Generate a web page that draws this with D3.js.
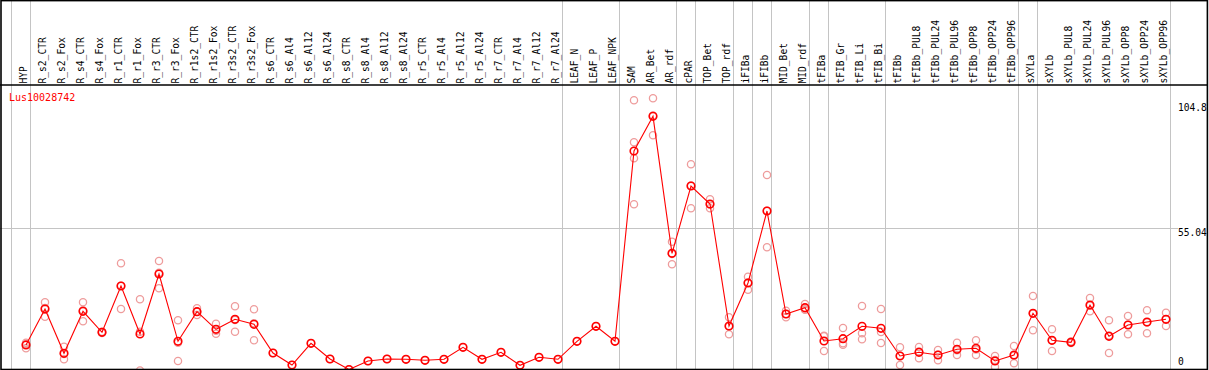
<!DOCTYPE html>
<html>
<head>
<meta charset="utf-8">
<script src="https://cdn.jsdelivr.net/npm/d3@7"></script>
<style>
  body { margin: 0; background: #fff; }
  svg text { font-family: "DejaVu Sans Mono", monospace; }
</style>
</head>
<body>
<svg id="chart"></svg>
<script>
var gene = "Lus10028742";

var samples = ["HYP", "R_s2_CTR", "R_s2_Fox", "R_s4_CTR", "R_s4_Fox", "R_r1_CTR", "R_r1_Fox",
  "R_r3_CTR", "R_r3_Fox", "R_r1s2_CTR", "R_r1s2_Fox", "R_r3s2_CTR", "R_r3s2_Fox", "R_s6_CTR",
  "R_s6_Al4", "R_s6_Al12", "R_s6_Al24", "R_s8_CTR", "R_s8_Al4", "R_s8_Al12", "R_s8_Al24",
  "R_r5_CTR", "R_r5_Al4", "R_r5_Al12", "R_r5_Al24", "R_r7_CTR", "R_r7_Al4", "R_r7_Al12",
  "R_r7_Al24", "LEAF_N", "LEAF_P", "LEAF_NPK", "SAM", "AR_Bet", "AR_rdf", "cPAR", "TOP_Bet",
  "TOP_rdf", "iFIBa", "iFIBb", "MID_Bet", "MID_rdf", "tFIBa", "tFIB_Gr", "tFIB_Li", "tFIB_Bi",
  "tFIBb", "tFIBb_PUL8", "tFIBb_PUL24", "tFIBb_PUL96", "tFIBb_OPP8", "tFIBb_OPP24", "tFIBb_OPP96",
  "sXYLa", "sXYLb", "sXYLb_PUL8", "sXYLb_PUL24", "sXYLb_PUL96", "sXYLb_OPP8", "sXYLb_OPP24",
  "sXYLb_OPP96"];

// samples that start a new group (grey separator drawn before them)
var groupStarts = ["HYP", "R_s2_CTR", "LEAF_N", "SAM", "cPAR", "TOP_Bet", "iFIBa", "iFIBb",
  "MID_Bet", "tFIBa", "tFIB_Gr", "tFIBb", "sXYLa", "sXYLb"];

var means = [10.37, 24.15, 7.20, 23.27, 15.23, 32.96, 14.58, 37.55, 11.79, 23.12, 16.38, 20.21,
  18.30, 7.31, 2.72, 11.02, 5.01, 1.00, 4.25, 5.01, 4.90, 4.52, 4.90, 9.49, 4.90, 7.58, 2.60,
  5.67, 4.90, 11.79, 17.53, 11.79, 84.63, 97.91, 45.47, 71.23, 64.34, 17.65, 34.11, 61.66,
  22.24, 24.65, 11.90, 12.78, 17.53, 16.77, 6.16, 7.58, 6.55, 8.73, 9.11, 4.25, 6.55, 22.51,
  12.17, 11.41, 25.68, 13.70, 18.03, 19.18, 20.21];

var replicates = [
  [11.25, 10.76, 9.11], [26.72, 24.54, 21.21], [9.72, 6.93, 4.90], [26.72, 23.66, 19.45],
  [15.4, 15.0, 15.3], [41.65, 33.07, 24.15], [27.87, 15.46, 0.61], [42.53, 38.05, 32.08],
  [19.83, 11.25, 4.25], [24.42, 23.12, 21.86], [18.53, 15.85, 14.70], [25.19, 19.94, 15.46],
  [24.04, 18.68, 12.17], [7.31], [2.72], [11.02], [5.01], [1.00], [4.25], [5.01], [4.90],
  [4.52], [4.90], [9.49], [4.90], [7.58], [2.60], [5.67], [4.90], [11.79], [17.53], [11.79],
  [104.04, 87.96, 81.84, 64.23], [104.8, 98.26, 90.64], [49.91, 45.21, 41.26],
  [79.54, 71.46, 62.70], [66.14, 64.19, 62.70], [20.98, 17.49, 14.47], [36.52, 34.26, 31.54],
  [75.44, 61.78, 47.77], [23.50, 22.24, 20.98], [26.07, 23.89, 24.04], [13.93, 13.70, 8.08],
  [16.88, 11.02, 10.45], [25.30, 14.85, 12.56], [24.15, 15.35, 11.14], [9.49, 6.28, 2.72],
  [9.61, 7.85, 5.28], [8.46, 6.66, 4.52], [11.25, 8.38, 6.55], [12.17, 8.61, 6.55],
  [6.16, 4.63, 1.95], [9.99, 6.28, 3.37], [29.13, 22.39, 16.00], [16.38, 12.06, 8.08],
  [11.71, 11.41, 11.14], [28.36, 25.42, 23.27], [19.83, 13.97, 7.31], [21.47, 18.14, 14.47],
  [23.66, 19.02, 14.85], [22.74, 20.25, 17.65]];

var yTicks = [104.8, 55.04, 0];
var gridValues = [55.04];

var width = 1209, height = 370;
var headerBottom = 85, plotBottom = 369.5, plotRight = 1170;

var svg = d3.select("#chart")
  .attr("width", width)
  .attr("height", height);

var x = d3.scalePoint()
  .domain(samples)
  .range([26, 1166]);

var step = x.step();

var y = d3.scaleLinear()
  .domain([0, 104.8])
  .range([372.1, 98.3]);

// group separators
svg.selectAll(".sep")
  .data(groupStarts.concat(["__end"]))
  .enter()
  .append("line")
  .attr("x1", function (d) { return d == "__end" ? plotRight + 0.5 : x(d) - 14.5; })
  .attr("x2", function (d) { return d == "__end" ? plotRight + 0.5 : x(d) - 14.5; })
  .attr("y1", 0)
  .attr("y2", plotBottom)
  .attr("stroke", "#c4c4c4")
  .attr("stroke-width", 1);

// horizontal grid
svg.selectAll(".grid")
  .data(gridValues)
  .enter()
  .append("line")
  .attr("x1", 0)
  .attr("x2", 1178)
  .attr("y1", function (d) { return Math.round(y(d)) + 0.5; })
  .attr("y2", function (d) { return Math.round(y(d)) + 0.5; })
  .attr("stroke", "#c4c4c4")
  .attr("stroke-width", 1);

// sample labels in header
svg.selectAll(".lab")
  .data(samples)
  .enter()
  .append("text")
  .attr("transform", function (d) { return "translate(" + (x(d) + 0.8) + "," + 83.5 + ") rotate(-90)"; })
  .attr("font-size", "9.6px")
  .attr("fill", "#000")
  .text(function (d) { return d; });

// y labels on the right
svg.selectAll(".ytick")
  .data(yTicks)
  .enter()
  .append("text")
  .attr("x", 1178)
  .attr("y", function (d) { return Math.max(111, Math.min(365, y(d) + 8)); })
  .attr("font-size", "9.6px")
  .attr("fill", "#000")
  .text(function (d) { return d; });

var pts = [];
replicates.forEach(function (reps, i) {
  reps.forEach(function (v) { pts.push({ s: samples[i], v: v }); });
});

// replicate circles
svg.selectAll(".rep")
  .data(pts)
  .enter()
  .append("circle")
  .attr("cx", function (d) { return x(d.s); })
  .attr("cy", function (d) { return y(d.v); })
  .attr("r", 3.6)
  .attr("fill", "none")
  .attr("stroke", "#ee9c9c")
  .attr("stroke-width", 1.3);

var line = d3.line()
  .x(function (d, i) { return x(samples[i]); })
  .y(function (d) { return y(d); });

svg.append("path")
  .datum(means)
  .attr("d", line)
  .attr("fill", "none")
  .attr("stroke", "#ff0000")
  .attr("stroke-width", 1.1);

svg.selectAll(".mean")
  .data(means)
  .enter()
  .append("circle")
  .attr("cx", function (d, i) { return x(samples[i]); })
  .attr("cy", function (d) { return y(d); })
  .attr("r", 3.8)
  .attr("fill", "none")
  .attr("stroke", "#ff0000")
  .attr("stroke-width", 1.6);

svg.append("text")
  .attr("x", 9)
  .attr("y", 100.5)
  .attr("font-size", "10px")
  .attr("fill", "#ff0000")
  .text(gene);

// frame
svg.append("line")
  .attr("x1", 0).attr("x2", 1208)
  .attr("y1", headerBottom).attr("y2", headerBottom)
  .attr("stroke", "#000").attr("stroke-width", 1.5);

svg.append("rect")
  .attr("x", 1)
  .attr("y", 0.6)
  .attr("width", 1206.4)
  .attr("height", plotBottom - 0.6)
  .attr("fill", "none")
  .attr("stroke", "#000")
  .attr("stroke-width", 1.6);
</script>
</body>
</html>
